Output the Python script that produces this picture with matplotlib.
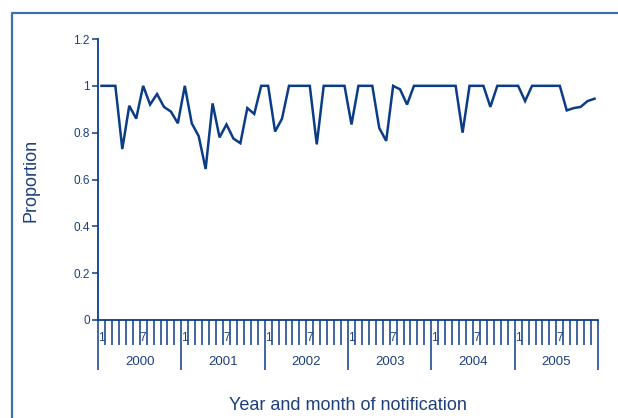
import matplotlib
matplotlib.use("Agg")
import matplotlib.pyplot as plt
from matplotlib.lines import Line2D
import numpy as np

plt.rcParams["font.family"] = ["Liberation Sans", "DejaVu Sans"]

years = ["2000", "2001", "2002", "2003", "2004", "2005"]
month_labels = {0: "1", 6: "7"}

# Monthly proportions, Jan 2000 - Dec 2005
p2000 = [1.0, 1.0, 1.0, 0.73, 0.915, 0.86, 1.0, 0.92, 0.965, 0.91, 0.89, 0.84]
p2001 = [1.0, 0.84, 0.785, 0.645, 0.925, 0.78, 0.835, 0.775, 0.755, 0.905, 0.88, 1.0]
p2002 = [1.0, 0.805, 0.86, 1.0, 1.0, 1.0, 1.0, 0.75, 1.0, 1.0, 1.0, 1.0]
p2003 = [0.835, 1.0, 1.0, 1.0, 0.82, 0.765, 1.0, 0.985, 0.92, 1.0, 1.0, 1.0]
p2004 = [1.0, 1.0, 1.0, 1.0, 0.80, 1.0, 1.0, 1.0, 0.91, 1.0, 1.0, 1.0]
p2005 = [1.0, 0.935, 1.0, 1.0, 1.0, 1.0, 1.0, 0.895, 0.905, 0.91, 0.935, 0.945]

yticks = [0, 0.2, 0.4, 0.6, 0.8, 1, 1.2]
ytick_labels = ["0", "0.2", "0.4", "0.6", "0.8", "1", "1.2"]

values = p2000 + p2001 + p2002 + p2003 + p2004 + p2005
n_months = len(values)

LINE = "#0b3c88"
TEXT = "#1d3f7c"
FRAME = "#3f6fad"

W, H = 618, 418
fig = plt.figure(figsize=(W / 100, H / 100), dpi=100)
fig.patch.set_facecolor("white")

# outer frame (left and top edges)
fig.add_artist(Line2D([12 / W, 12 / W, 1.0], [0.0, 1 - 13 / H, 1 - 13 / H],
                      transform=fig.transFigure, color=FRAME, lw=1.6))

left, right = 98 / W, 598 / W
bottom, top = (H - 320) / H, (H - 39) / H
ax = fig.add_axes([left, bottom, right - left, top - bottom])

x = np.arange(n_months) + 0.5
ax.plot(x, values, color=LINE, lw=1.8, solid_joinstyle="miter")

ax.set_xlim(0, n_months)
ax.set_ylim(0, 1.2)

for s in ["top", "right"]:
    ax.spines[s].set_visible(False)
for s in ["left", "bottom"]:
    ax.spines[s].set_color(LINE)
    ax.spines[s].set_linewidth(1.3)

ax.set_yticks(yticks)
ax.set_yticklabels(ytick_labels)
ax.tick_params(axis="y", direction="out", length=4, width=1.1, colors=LINE,
               labelcolor=TEXT, labelsize=8.5, pad=2)

# year boundaries (long ticks) and month boundaries (short ticks)
year_edges = np.arange(0, n_months + 1, 12)
month_edges = [m for m in range(1, n_months) if m % 12 != 0]
ax.set_xticks(year_edges)
ax.set_xticklabels([])
ax.set_xticks(month_edges, minor=True)
ax.tick_params(axis="x", which="major", direction="out", length=36, width=1.1,
               colors=LINE)
ax.tick_params(axis="x", which="minor", direction="out", length=18, width=1.1,
               colors=LINE)

# month numbers and year labels
for yi, yr in enumerate(years):
    for m, lab in month_labels.items():
        ax.annotate(lab, xy=(yi * 12 + m + 0.5, 0), xycoords=("data", "axes fraction"),
                    xytext=(0, -13), textcoords="offset points",
                    ha="center", va="center", fontsize=8.5, color=TEXT)
    ax.annotate(yr, xy=(yi * 12 + 6, 0), xycoords=("data", "axes fraction"),
                xytext=(0, -30), textcoords="offset points",
                ha="center", va="center", fontsize=9.5, color=TEXT)

fig.text(31 / W, 1 - 180 / H, "Proportion", rotation=90, ha="center", va="center",
         fontsize=13, color=TEXT)
fig.text((left + right) / 2, 1 - 405 / H, "Year and month of notification",
         ha="center", va="center", fontsize=13, color=TEXT)

fig.savefig("out.png", dpi=100, facecolor="white")
